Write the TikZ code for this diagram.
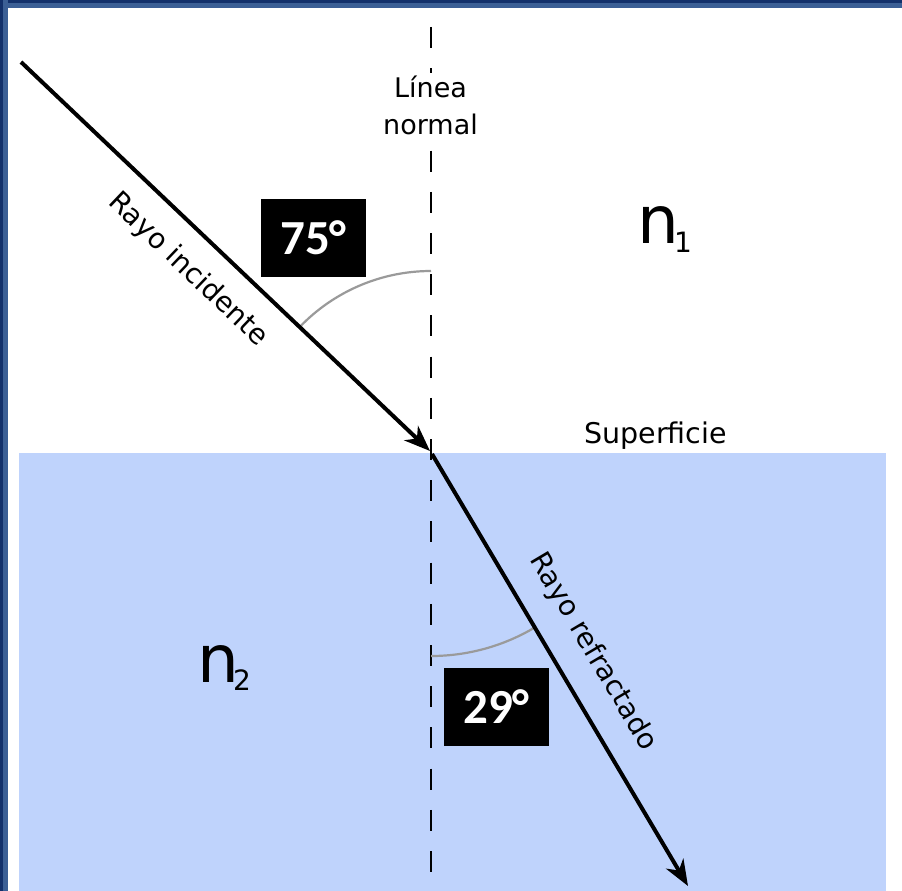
\documentclass[tikz,border=0pt]{standalone}
\usepackage{fontspec}
\usetikzlibrary{arrows.meta}
\newfontfamily\dvsans{DejaVu Sans}
\newfontfamily\carl{Carlito}
\definecolor{framedark}{HTML}{12306A}
\definecolor{framemid}{HTML}{3B5F95}
\definecolor{medium}{HTML}{BFD3FC}
\definecolor{arcgray}{HTML}{9A9A9A}
\tikzset{
  ray/.style={line width=4pt, -{Stealth[length=26pt,width=20pt,inset=8pt]}},
  normalline/.style={line width=2.6pt, dash pattern=on 21pt off 20.2pt},
  anglearc/.style={arcgray, line width=2.2pt},
  lbl/.style={font=\dvsans\fontsize{27}{37}\selectfont, inner sep=0pt},
  raylbl/.style={font=\dvsans\fontsize{28}{30}\selectfont, inner sep=0pt},
  degbox/.style={fill=black, text=white, minimum width=105pt, minimum height=78pt, inner sep=0pt, font=\carl\bfseries\fontsize{49}{49}\selectfont},
  idx/.style={font=\dvsans\fontsize{66}{66}\selectfont, inner sep=0pt, anchor=base west}
}
\begin{document}
\begin{tikzpicture}[x=1pt,y=-1pt]
\useasboundingbox (0,0) rectangle (902,891);
\fill[white] (0,0) rectangle (902,891);
% frame
\fill[framemid] (0,0) rectangle (902,8);
\fill[framedark] (0,0) rectangle (902,3);
\fill[framemid] (0,0) rectangle (8,891);
\fill[framedark] (0,0) rectangle (3,891);
% second medium
\fill[medium] (19,453) rectangle (886,891);
% coordinates
\coordinate (T) at (431,27);
\coordinate (D) at (431,891);
\coordinate (A) at (21,62);
\coordinate (O) at (431,453);
\coordinate (I) at (430,451);
\coordinate (S) at (432,454);
\coordinate (B) at (688,886);
% normal
\draw[normalline] (T) -- (D);
% angle arcs
\draw[anglearc] (O) ++(-90:182) arc[start angle=-90, end angle=-136.44, radius=182];
\draw[anglearc] (O) ++(90:203) arc[start angle=90, end angle=59.35, radius=203];
% rays
\draw[ray] (A) -- (I);
\draw[ray] (S) -- (B);
% labels
\node[lbl, fill=white, inner xsep=2pt, inner ysep=3pt, align=center, anchor=north] (nl) at (430.5,73) {Línea\\normal};
\node[lbl, anchor=base, font=\dvsans\fontsize{28.5}{30}\selectfont] (sup) at (655.5,443) {Superficie};
\node[raylbl, rotate=-43.6] (ri) at (188,270) {Rayo incidente};
\node[raylbl, rotate=-59.35] (rr) at (593,652) {Rayo refractado};
\node[degbox] (d75) at (313.5,238) {75°};
\node[degbox] (d29) at (496.5,707) {29°};
\node[idx] (n1) at (637,243) {n\kern-5pt\raisebox{-9pt}{\fontsize{28}{28}\selectfont 1}};
\node[idx] (n2) at (197,682) {n\kern-6pt\raisebox{-8pt}{\fontsize{28}{28}\selectfont 2}};
\end{tikzpicture}
\end{document}
